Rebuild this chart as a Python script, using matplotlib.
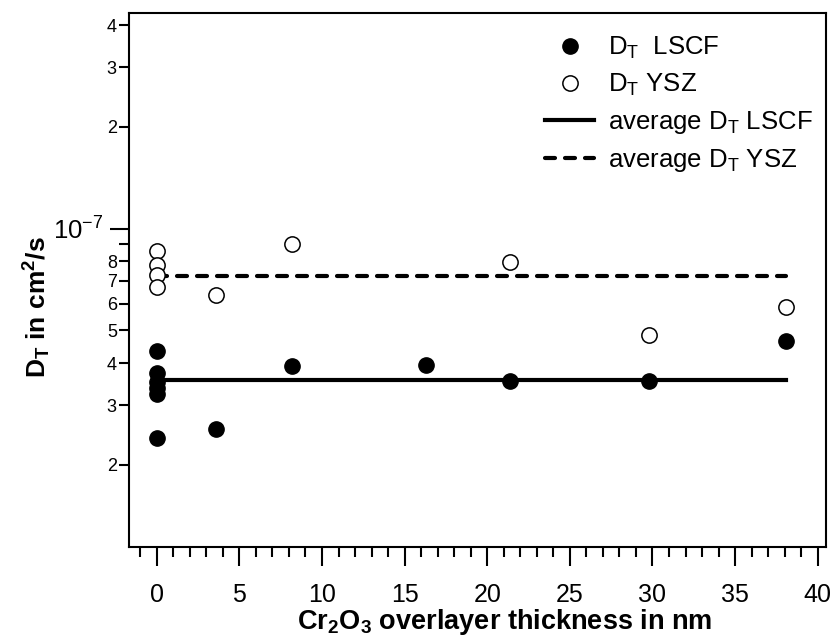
import matplotlib
matplotlib.use("Agg")
import matplotlib.pyplot as plt
from matplotlib.ticker import FixedLocator, FixedFormatter, MultipleLocator

plt.rcParams['font.family'] = ['Liberation Sans', 'DejaVu Sans']
plt.rcParams['mathtext.default'] = 'regular'

# Data
x_lscf = [0, 0, 0, 0, 0, 0, 3.6, 8.2, 16.3, 21.4, 29.8, 38.1]
y_lscf = [4.35e-8, 3.75e-8, 3.52e-8, 3.38e-8, 3.24e-8, 2.40e-8,
          2.55e-8, 3.93e-8, 3.95e-8, 3.55e-8, 3.55e-8, 4.64e-8]
x_ysz = [0, 0, 0, 0, 3.6, 8.2, 21.4, 29.8, 38.1]
y_ysz = [8.58e-8, 7.78e-8, 7.30e-8, 6.71e-8, 6.38e-8, 8.98e-8, 7.96e-8, 4.85e-8, 5.88e-8]
avg_x = [0, 38.1]
avg_lscf = 3.56e-8
avg_ysz = 7.23e-8

y_major = [1e-7]
y_major_labels = [r'$10^{-7}$']
y_minor = [2e-8, 3e-8, 4e-8, 5e-8, 6e-8, 7e-8, 8e-8, 9e-8, 2e-7, 3e-7, 4e-7]
y_minor_labels = ['2', '3', '4', '5', '6', '7', '8', '', '2', '3', '4']

fig = plt.figure(figsize=(8.36, 6.4), dpi=100)
ax = fig.add_axes([0.1547, 0.1448, 0.988 - 0.1547, 0.979 - 0.1448])

ax.plot(x_lscf, y_lscf, 'o', color='black', markersize=11, label=r'D$_T$  LSCF', zorder=3)
ax.plot(x_ysz, y_ysz, 'o', markerfacecolor='white', markeredgecolor='black',
        markeredgewidth=1.1, markersize=11, label=r'D$_T$ YSZ', zorder=3)
ax.plot(avg_x, [avg_lscf, avg_lscf], '-', color='black', linewidth=3.0,
        label=r'average D$_T$ LSCF', zorder=2)
ax.plot(avg_x, [avg_ysz, avg_ysz], color='black', linewidth=3.0, linestyle=(0, (2.4, 2.4)),
        dash_capstyle='round', label=r'average D$_T$ YSZ', zorder=2)

ax.set_yscale('log')
ax.set_ylim(1.14e-8, 4.33e-7)
ax.set_xlim(-1.66, 40.5)

ax.yaxis.set_major_locator(FixedLocator(y_major))
ax.yaxis.set_major_formatter(FixedFormatter(y_major_labels))
ax.yaxis.set_minor_locator(FixedLocator(y_minor))
ax.yaxis.set_minor_formatter(FixedFormatter(y_minor_labels))

ax.xaxis.set_major_locator(MultipleLocator(5))
ax.xaxis.set_minor_locator(MultipleLocator(1))

for s in ax.spines.values():
    s.set_linewidth(1.5)

ax.tick_params(axis='x', which='major', direction='out', length=14, width=1.5,
               labelsize=18, pad=12)
ax.tick_params(axis='x', which='minor', direction='out', length=7, width=1.5)
ax.tick_params(axis='y', which='major', direction='out', length=14, width=1.5,
               labelsize=18.5, pad=5)
ax.tick_params(axis='y', which='minor', direction='out', length=7, width=1.5,
               labelsize=13, pad=2)
ax.tick_params(top=False, right=False)

ax.set_xlabel(r'Cr$_2$O$_3$ overlayer thickness in nm', fontsize=19.5, fontweight='bold')
ax.xaxis.set_label_coords(0.539, -0.112)
ax.set_ylabel(r'D$_T$ in cm$^2$/s', fontsize=19, fontweight='bold')
ax.yaxis.set_label_coords(-0.11, 0.45)

leg = ax.legend(loc='upper right', frameon=False, fontsize=18.5, handlelength=1.9,
                handletextpad=0.55, labelspacing=0.42, borderaxespad=0.0,
                borderpad=0.4, bbox_to_anchor=(0.996, 0.979))

fig.savefig('out.png', dpi=100)
